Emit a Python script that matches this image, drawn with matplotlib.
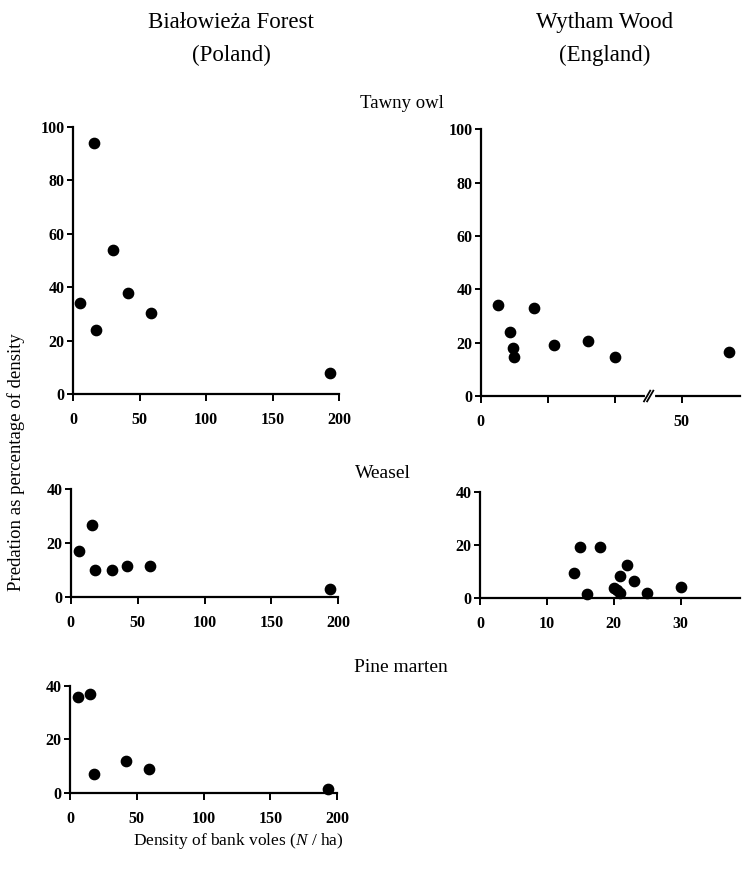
import numpy as np
import matplotlib
matplotlib.use('Agg')
import matplotlib.pyplot as plt

plt.rcParams['font.family'] = ['Liberation Serif', 'DejaVu Serif']
plt.rcParams['mathtext.fontset'] = 'custom'
plt.rcParams['mathtext.it'] = 'Liberation Serif:italic'
plt.rcParams['mathtext.rm'] = 'Liberation Serif'

# Białowieża Forest (Poland)
bf_owl_x = [5, 16, 17, 30, 41, 59, 193]
bf_owl_y = [34, 94, 24, 54, 38, 30.5, 8]
bf_weasel_x = [6, 16, 18, 31, 42, 59, 194]
bf_weasel_y = [17, 26.6, 10, 10, 11.5, 11.5, 3]
bf_marten_x = [6, 15, 18, 42, 59, 193]
bf_marten_y = [36, 37, 7, 12, 9, 1.5]

# Wytham Wood (England)
ww_owl_x = [2.6, 4.3, 4.8, 5, 8, 11, 16, 20, 57]
ww_owl_y = [34, 24, 18, 14.5, 33, 19, 20.5, 14.5, 16.6]
ww_weasel_x = [14, 15, 16, 18, 20, 20.5, 21, 21, 22, 23, 25, 30]
ww_weasel_y = [9.7, 19.5, 1.6, 19.5, 4, 3, 2, 8.4, 12.5, 6.4, 2, 4.3]

bf_ticks = [0, 50, 100, 150, 200]
owl_yticks = [0, 20, 40, 60, 80, 100]
small_yticks = [0, 20, 40]


# broken x axis for Wytham owl panel: 25..45 is cut out
def fwd(x):
    x = np.asarray(x, dtype=float)
    return np.where(x < 45, np.minimum(x, 25.3), x - 20)


def inv(t):
    t = np.asarray(t, dtype=float)
    return np.where(t <= 25.3, t, t + 20)


def style(ax):
    for s in ['top', 'right']:
        ax.spines[s].set_visible(False)
    for s in ['left', 'bottom']:
        ax.spines[s].set_linewidth(1.6)
    ax.tick_params(direction='out', width=1.4, labelsize=11.5)
    ax.tick_params(axis='x', length=5, pad=8)
    ax.tick_params(axis='y', length=4, pad=2)
    for lab in ax.get_xticklabels() + ax.get_yticklabels():
        lab.set_fontweight('bold')


fig = plt.figure(figsize=(7.45, 8.71), dpi=100)
W, H = 745, 871


def add_ax(l, r, t, b):
    return fig.add_axes([l / W, (H - b) / H, (r - l) / W, (b - t) / H])


ms = 55

ax1 = add_ax(73, 339, 127, 394)
ax1.scatter(bf_owl_x, bf_owl_y, s=ms, color='black', zorder=3, clip_on=False)
ax1.set_xlim(0, 200)
ax1.set_ylim(0, 100)
ax1.set_xticks(bf_ticks)
ax1.set_yticks(owl_yticks)
style(ax1)

ax2 = add_ax(480.7, 740, 129.3, 396)
ax2.set_xscale('function', functions=(fwd, inv))
ax2.scatter(ww_owl_x, ww_owl_y, s=ms, color='black', zorder=3, clip_on=False)
ax2.set_xlim(0, 58.7)
ax2.set_ylim(0, 100)
ax2.set_xticks([0, 10, 20, 50])
ax2.set_xticklabels(['0', '', '', '50'])
ax2.set_yticks(owl_yticks)
style(ax2)
# axis break
bx = 25.3 / 38.7
ax2.plot([bx - 0.014, bx + 0.012], [0, 0], color='white', lw=3,
         transform=ax2.transAxes, clip_on=False, zorder=4)
for dx in (-0.012, 0.0):
    ax2.plot([bx + dx - 0.012, bx + dx + 0.012], [-0.02, 0.02], color='black',
             lw=1.3, transform=ax2.transAxes, clip_on=False, zorder=5)

ax3 = add_ax(70.7, 338.3, 489, 596.7)
ax3.scatter(bf_weasel_x, bf_weasel_y, s=ms, color='black', zorder=3, clip_on=False)
ax3.set_xlim(0, 200)
ax3.set_ylim(0, 40)
ax3.set_xticks(bf_ticks)
ax3.set_yticks(small_yticks)
style(ax3)

ax4 = add_ax(480, 740, 492.3, 598.3)
ax4.scatter(ww_weasel_x, ww_weasel_y, s=ms, color='black', zorder=3, clip_on=False)
ax4.set_xlim(0, 38.9)
ax4.set_ylim(0, 40)
ax4.set_xticks([0, 10, 20, 30])
ax4.set_yticks(small_yticks)
style(ax4)

ax5 = add_ax(70, 337.3, 686, 792.7)
ax5.scatter(bf_marten_x, bf_marten_y, s=ms, color='black', zorder=3, clip_on=False)
ax5.set_xlim(0, 200)
ax5.set_ylim(0, 40)
ax5.set_xticks(bf_ticks)
ax5.set_yticks(small_yticks)
style(ax5)

fig.text(231 / W, 1 - 39 / H, 'Białowieża Forest\n(Poland)', ha='center', va='center',
         fontsize=16.5, linespacing=1.7)
fig.text(605 / W, 1 - 39 / H, 'Wytham Wood\n(England)', ha='center', va='center',
         fontsize=16.5, linespacing=1.7)
fig.text(402 / W, 1 - 103 / H, 'Tawny owl', ha='center', va='center', fontsize=13.5)
fig.text(383 / W, 1 - 473 / H, 'Weasel', ha='center', va='center', fontsize=14)
fig.text(401 / W, 1 - 668 / H, 'Pine marten', ha='center', va='center', fontsize=14)
fig.text(16 / W, 1 - 462 / H, 'Predation as percentage of density', rotation=90,
         ha='center', va='center', fontsize=13.5)
fig.text(238 / W, 1 - 841 / H, 'Density of bank voles ($N$ / ha)', ha='center',
         va='center', fontsize=12.5)

fig.savefig('out.png', dpi=100)
